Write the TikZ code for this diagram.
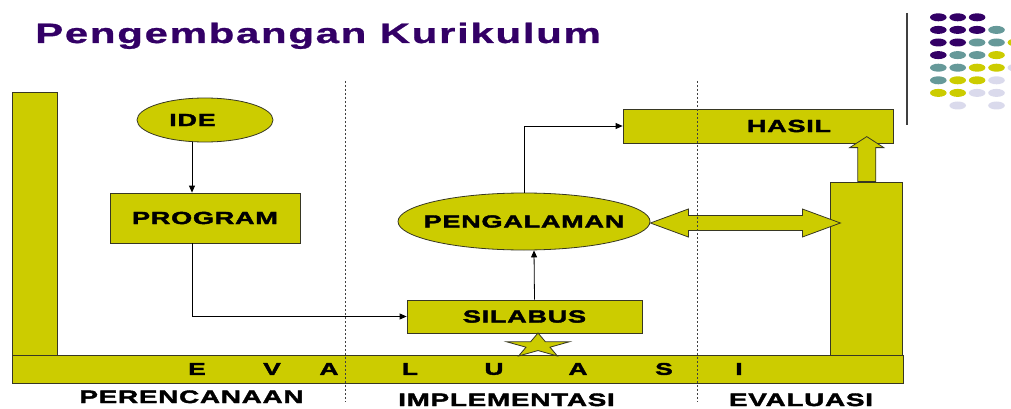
\documentclass[tikz,border=0pt]{standalone}
\usepackage{fontspec}
\usepackage{tikz}
\usetikzlibrary{shapes.geometric, arrows.meta, positioning, calc}
\newfontfamily\titlefont{Liberation Sans}[FakeStretch=1.5, LetterSpace=6, BoldFeatures={FakeBold=1}]
\newfontfamily\boxfont{Liberation Sans}[FakeStretch=1.55, LetterSpace=4, BoldFeatures={FakeBold=2.2}]
\definecolor{myolive}{RGB}{204,204,0}
\definecolor{mypurple}{RGB}{51,0,102}
\definecolor{myteal}{RGB}{102,153,153}
\definecolor{mylav}{RGB}{218,218,236}
\definecolor{myedge}{RGB}{55,55,35}
\tikzset{
  block/.style={rectangle, draw=myedge, fill=myolive, line width=0.8pt,
    inner sep=0pt, font=\boxfont\bfseries\fontsize{17.5}{20}\selectfont},
  ovalnode/.style={ellipse, draw=myedge, fill=myolive, line width=0.8pt, inner sep=0pt},
  lbl/.style={inner sep=0pt, font=\boxfont\bfseries\fontsize{17.5}{20}\selectfont},
  bar/.style={rectangle, draw=myedge, fill=myolive, line width=0.8pt, inner sep=0pt},
  barletter/.style={inner sep=0pt, font=\boxfont\bfseries\fontsize{17}{20}\selectfont},
  phase/.style={inner sep=0pt, anchor=base, font=\boxfont\bfseries\fontsize{18}{20}\selectfont},
  starnode/.style={star, star points=5, star point ratio=2.618, draw=myedge,
    fill=myolive, line width=0.8pt, minimum size=25.4pt, inner sep=0pt},
  fatarrow/.style={draw=myedge, fill=myolive, line width=0.8pt, line join=miter},
  arrow/.style={-{Triangle[length=7pt,width=6pt]}, line width=0.8pt, color=black},
  sepline/.style={dash pattern=on 2pt off 2pt, line width=0.8pt, color=black!75}
}
\begin{document}
\begin{tikzpicture}[x=1pt, y=-1pt]
  \useasboundingbox (0,0) rectangle (1011,409);

  % Title
  \node[anchor=base west, inner sep=0pt, text=mypurple,
    font=\titlefont\bfseries\fontsize{28}{30}\selectfont] (judul) at (35,43) {Pengembangan Kurikulum};

  % Corner dots
  \draw[line width=1.3pt, color=black!75] (907,13) -- (907,125);
  \foreach \c/\r/\col in {0/0/mypurple, 1/0/mypurple, 2/0/mypurple,
      0/1/mypurple, 1/1/mypurple, 2/1/mypurple, 3/1/myteal,
      0/2/mypurple, 1/2/mypurple, 2/2/myteal, 3/2/myteal, 4/2/myolive,
      0/3/mypurple, 1/3/myteal, 2/3/myteal, 3/3/myolive,
      0/4/myteal, 1/4/myteal, 2/4/myolive, 3/4/myolive, 4/4/mylav,
      0/5/myteal, 1/5/myolive, 2/5/myolive, 3/5/mylav,
      0/6/myolive, 1/6/myolive, 2/6/mylav, 3/6/mylav,
      1/7/mylav, 3/7/mylav}
    \fill[\col] (938.3+19.4*\c, 17.3+12.6*\r) ellipse [x radius=8.3, y radius=4];

  % Frame bars
  \node[bar, minimum width=45pt, minimum height=264pt] (kiri) at (34.5,224) {};
  \node[bar, minimum width=72pt, minimum height=174pt] (kanan) at (866.75,269) {};
  \node[bar, minimum width=891pt, minimum height=28pt] (evaluasi) at (457.5,369) {};
  \foreach \x/\t in {197/E, 272/V, 329/A, 410/L, 494/U, 578/A, 664/S, 739/I}
    \node[barletter] (ev\x) at (\x,369) {\t};

  % Boxes
  \node[ovalnode, minimum width=136pt, minimum height=44pt,
    label={[lbl, xshift=-12.5pt]center:IDE}] (ide) at (205,120) {};
  \node[block, minimum width=190pt, minimum height=50pt] (program) at (205,218) {PROGRAM};
  \node[block, minimum width=235pt, minimum height=33pt] (silabus) at (524.5,316.5) {SILABUS};
  \node[ovalnode, minimum width=252pt, minimum height=57pt,
    label={[lbl]center:PENGALAMAN}] (pengalaman) at (524,221.5) {};
  \node[block, minimum width=270pt, minimum height=34pt,
    label={[lbl, xshift=31pt]center:HASIL}] (hasil) at (758,126) {};

  % Connectors
  \draw[arrow] ([xshift=-13pt]ide.south) -- ([xshift=-13pt]program.north);
  \draw[arrow] ([xshift=-13pt]program.south) |- (silabus.west);
  \draw[arrow] ([xshift=10pt]silabus.north) -- ([xshift=10pt]pengalaman.south);
  \draw[arrow] (pengalaman.north) |- (hasil.west);

  % Block arrows
  \coordinate (ujung) at ([yshift=-1.5pt]pengalaman.east);
  \draw[fatarrow] (ujung) -- ++(38,-14) -- ++(0,6.5) -- ++(114,0) -- ++(0,-6.5)
    -- ++(38,14) -- ++(-38,14) -- ++(0,-6.5) -- ++(-114,0) -- ++(0,6.5) -- cycle;
  \draw[fatarrow] ([xshift=-9pt]kanan.north) -- ++(0,-34) -- ++(-8,0) -- ++(17,-11)
    -- ++(17,11) -- ++(-8,0) -- ++(0,34) -- cycle;
  \node[starnode, xscale=2.6] (bintang) at (538,345.7) {};

  % Phase separators
  \draw[sepline] (345,81) -- (345,402);
  \draw[sepline] (697,81) -- (697,402);

  % Phase labels
  \node[phase] (rencana) at (191.5,403) {PERENCANAAN};
  \node[phase] (implementasi) at (506.5,406) {IMPLEMENTASI};
  \node[phase] (evaluasiLbl) at (801,406) {EVALUASI};
\end{tikzpicture}
\end{document}
